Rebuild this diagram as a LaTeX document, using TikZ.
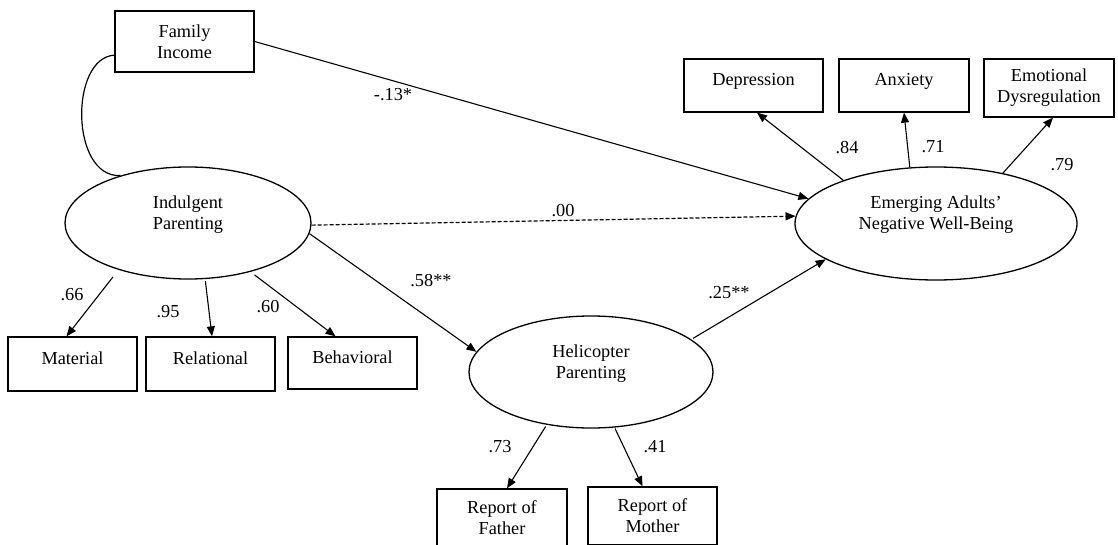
\documentclass[tikz,border=0pt]{standalone}
\usepackage{fontspec}
\setmainfont{Liberation Serif}
\usetikzlibrary{arrows.meta,calc,shapes.geometric}
\tikzset{
  every node/.style={font=\fontsize{18.3}{21}\selectfont},
  obsbox/.style={draw, line width=1.3pt, rectangle, inner sep=0pt, minimum width=130pt, text height=12pt, text depth=12pt},
  obsbox2/.style={draw, line width=1.3pt, rectangle, inner sep=0pt, minimum width=130pt, align=center},
  latent/.style={draw, line width=1.3pt, ellipse, inner sep=0pt, align=center},
  path/.style={line width=1.1pt, -{Triangle[length=10pt,width=8pt]}},
  lab/.style={inner sep=0pt}
}
\begin{document}
\begin{tikzpicture}[x=1pt,y=-1pt]
\useasboundingbox (0,0) rectangle (1118,545);
\clip (0,0) rectangle (1118,545);
\fill[white] (0,0) rectangle (1118,545);

% latent variables
\node[latent, minimum width=246pt, minimum height=112pt] (ind) at (188,223) {Indulgent\\Parenting\\\mbox{}};
\node[latent, minimum width=244pt, minimum height=112pt] (hel) at (591,372) {Helicopter\\Parenting\\\mbox{}};
\node[latent, minimum width=282pt, minimum height=113pt] (em) at (936,223.5) {Emerging Adults’\\Negative Well-Being\\\mbox{}};

% observed variables
\node[obsbox2, minimum width=139pt, minimum height=61pt] (fi) at (184.5,41.5) {Family\\Income};
\node[obsbox, minimum width=129pt, minimum height=54pt] (mat) at (72.5,364) {Material};
\node[obsbox, minimum width=129pt, minimum height=54pt] (rel) at (210.5,364) {Relational};
\node[obsbox, minimum width=129pt, minimum height=52pt] (beh) at (352.5,363) {Behavioral};
\node[obsbox, minimum width=139pt, minimum height=53pt] (dep) at (753.5,85.5) {Depression};
\node[obsbox, minimum width=130pt, minimum height=53pt] (anx) at (904,85.5) {Anxiety};
\node[obsbox2, minimum width=130pt, minimum height=58pt] (emo) at (1049,88) {Emotional\\Dysregulation};
\node[obsbox2, minimum width=130pt, minimum height=58pt] (fat) at (502,518) {Report of\\Father};
\node[obsbox2, minimum width=129pt, minimum height=58pt] (mot) at (652.5,516) {Report of\\Mother};

% covariance
\draw[line width=1.2pt] (fi.191) .. controls +(-45,3) and +(-50,2) .. (ind.145);

% structural paths
\draw[path] (fi.east) -- (em.169);
\draw[path, line width=1.2pt, dash pattern=on 4pt off 2pt] (ind.-1) -- (em.177);
\draw[path] (ind.-5.6) -- (hel.170.5);
\draw[path, shorten <=2pt] (hel.18) -- (em.198);

% measurement paths
\draw[path, shorten <=9pt] (ind.214) -- ($(mat.north)+(-6,0)$);
\draw[path, shorten <=2pt] (ind.-73.2) -- ($(rel.north)+(1.5,0)$);
\draw[path, shorten <=5pt] (ind.-38.7) -- ($(beh.north)+(-17,0)$);
\draw[path, shorten <=2pt] (hel.230) -- ($(fat.north)+(5,0)$);
\draw[path, shorten <=1pt] (hel.-67.7) -- ($(mot.north)+(-10,0)$);
\draw[path] (em.155) -- ($(dep.south)+(3.5,0)$);
\draw[path] (em.115) -- (anx.south);
\draw[path] (em.37.5) -- ($(emo.south)+(4,0)$);

% coefficients
\node[lab] (c13) at (393,95) {-.13*};
\node[lab] (c00) at (563,211) {.00};
\node[lab] (c58) at (431,281) {.58**};
\node[lab] (c25) at (729,293) {.25**};
\node[lab] (c66) at (72,295) {.66};
\node[lab] (c95) at (168,312) {.95};
\node[lab] (c60) at (268,307) {.60};
\node[lab] (c73) at (500,447) {.73};
\node[lab] (c41) at (655,447) {.41};
\node[lab] (c84) at (847,148) {.84};
\node[lab] (c71) at (933,147) {.71};
\node[lab] (c79) at (1062,165) {.79};
\end{tikzpicture}
\end{document}
